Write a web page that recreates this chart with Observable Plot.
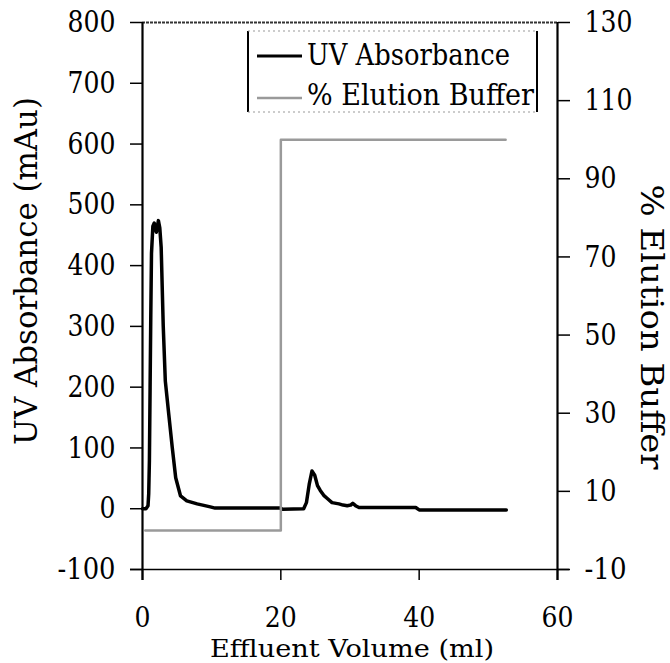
<!DOCTYPE html>
<html>
<head>
<meta charset="utf-8">
<script src="https://cdn.jsdelivr.net/npm/d3@7"></script>
<script src="https://cdn.jsdelivr.net/npm/@observablehq/plot@0.6"></script>
<style>
  html, body { margin: 0; padding: 0; background: #fff; }
  #chart { width: 670px; height: 663px; }
</style>
</head>
<body>
<div id="chart"></div>
<script>
// ---- data ----
const uvVolume = [0, 0.5, 0.8, 0.9, 1.0, 1.1, 1.2, 1.3, 1.5, 1.7, 2.0, 2.3, 2.5, 2.7, 3.0, 3.3, 3.8, 4.3, 4.8, 5.5, 6.4, 7.9, 9.8, 10.5, 19.9, 20.3, 23.3, 23.7, 24.1, 24.5, 24.9, 25.3, 25.7, 26.2, 26.8, 27.4, 28.4, 29.0, 29.6, 30.1, 30.4, 30.8, 31.3, 39.5, 40.0, 52.6];
const uvAbsorbance = [0, 0, 5, 25, 80, 200, 320, 420, 465, 470, 455, 474, 462, 430, 300, 210, 155, 101, 51, 21, 13, 8, 3, 1, 1, -1, 0, 10, 40, 62, 55, 38, 30, 22, 16, 10, 8, 6, 5, 6, 9, 5, 2, 2, -2, -2];
const bufferVolume = [0.4, 20, 20, 52.5];
const bufferPercent = [0, 0, 100, 100];
const xTicks = [0, 20, 40, 60];
const leftTicks = [-100, 0, 100, 200, 300, 400, 500, 600, 700, 800];
const rightTicks = [-10, 10, 30, 50, 70, 90, 110, 130];
const seriesNames = ["UV Absorbance", "% Elution Buffer"];
const xTitle = "Effluent Volume (ml)";
const yTitle = "UV Absorbance (mAu)";
const y2Title = "% Elution Buffer";

const toUV = b => (b + 10) * 900 / 140 - 100;
const fromUV = u => (u + 100) * 140 / 900 - 10;

const uv = uvVolume.map((v, i) => ({v, a: uvAbsorbance[i]}));
const buf = bufferVolume.map((v, i) => ({v, p: bufferPercent[i]}));

const FONT = "'DejaVu Serif'";

const plot = Plot.plot({
  width: 670,
  height: 663,
  marginLeft: 142,
  marginRight: 113,
  marginTop: 22,
  marginBottom: 94,
  style: {fontFamily: FONT, fontSize: "30px", color: "#000", background: "#fff"},
  x: {domain: [0, 60]},
  y: {domain: [-100, 800]},
  marks: [
    Plot.ruleY([800], {stroke: "#333", strokeWidth: 2, strokeDasharray: "3,1"}),
    Plot.axisY(leftTicks, {anchor: "left", tickSize: 12, tickPadding: 15, fontSize: 30, fontFamily: FONT, label: null, tickFormat: d => String(d), strokeWidth: 1.5}),
    Plot.axisY(rightTicks.map(toUV), {anchor: "right", tickSize: 12, tickPadding: 15, fontSize: 30, fontFamily: FONT, label: null, tickFormat: d => String(Math.round(fromUV(d))), strokeWidth: 1.5}),
    Plot.axisX(xTicks, {anchor: "bottom", tickSize: 11, tickPadding: 27, fontSize: 28, fontFamily: FONT, label: null, tickFormat: d => String(d), strokeWidth: 1.5}),
    Plot.ruleX([0, 60], {stroke: "#000", strokeWidth: 2.2, insetBottom: -11}),
    Plot.ruleY([-100], {stroke: "#000", strokeWidth: 1.5, insetLeft: -12, insetRight: -12}),
    Plot.line(uv, {x: "v", y: "a", stroke: "#000", strokeWidth: 3.5, strokeLinejoin: "round"}),
    Plot.line(buf, {x: "v", y: d => toUV(d.p), stroke: "#9a9a9a", strokeWidth: 2.5})
  ]
});

document.getElementById("chart").appendChild(plot);

const svg = d3.select(plot);
// condense DejaVu Serif tick labels to Times-like widths
svg.selectAll("text").each(function () {
  const s = this.textContent;
  let w = 0;
  for (const ch of s) w += (ch === "-" ? 10 : 16);
  d3.select(this).style("font-family", FONT)
    .attr("textLength", w).attr("lengthAdjust", "spacingAndGlyphs");
});

const g = svg.append("g").attr("fill", "#000").style("font-family", FONT);
g.append("text").attr("transform", "translate(37,271) rotate(-90)")
  .attr("text-anchor", "middle").attr("font-size", 32).style("font-family", FONT)
  .attr("textLength", 348).attr("lengthAdjust", "spacingAndGlyphs").text(yTitle);
g.append("text").attr("transform", "translate(641,327) rotate(90)")
  .attr("text-anchor", "middle").attr("font-size", 32).style("font-family", FONT)
  .attr("textLength", 285).attr("lengthAdjust", "spacingAndGlyphs").text(y2Title);
g.append("text").attr("x", 352).attr("y", 657)
  .attr("text-anchor", "middle").attr("font-size", 25).style("font-family", FONT)
  .attr("textLength", 284).attr("lengthAdjust", "spacingAndGlyphs").text(xTitle);

const L = svg.append("g");
L.append("line").attr("x1", 248).attr("x2", 248).attr("y1", 31).attr("y2", 112).attr("stroke", "#000").attr("stroke-width", 2);
L.append("line").attr("x1", 537).attr("x2", 537).attr("y1", 31).attr("y2", 112).attr("stroke", "#000").attr("stroke-width", 2);
L.append("line").attr("x1", 248).attr("x2", 537).attr("y1", 31).attr("y2", 31).attr("stroke", "#999").attr("stroke-width", 1).attr("stroke-dasharray", "2,3");
L.append("line").attr("x1", 248).attr("x2", 537).attr("y1", 112).attr("y2", 112).attr("stroke", "#999").attr("stroke-width", 1).attr("stroke-dasharray", "2,3");
const rows = [
  {name: seriesNames[0], lineY: 56, base: 65, stroke: "#000", w: 3, len: 203},
  {name: seriesNames[1], lineY: 98, base: 105, stroke: "#9a9a9a", w: 2.5, len: 227}
];
rows.forEach(r => {
  L.append("line").attr("x1", 257).attr("x2", 302).attr("y1", r.lineY).attr("y2", r.lineY)
    .attr("stroke", r.stroke).attr("stroke-width", r.w);
  L.append("text").attr("x", 307).attr("y", r.base).attr("text-anchor", "start")
    .attr("font-size", 30).style("font-family", FONT)
    .attr("textLength", r.len).attr("lengthAdjust", "spacingAndGlyphs")
    .attr("fill", "#000").text(r.name);
});
</script>
</body>
</html>
